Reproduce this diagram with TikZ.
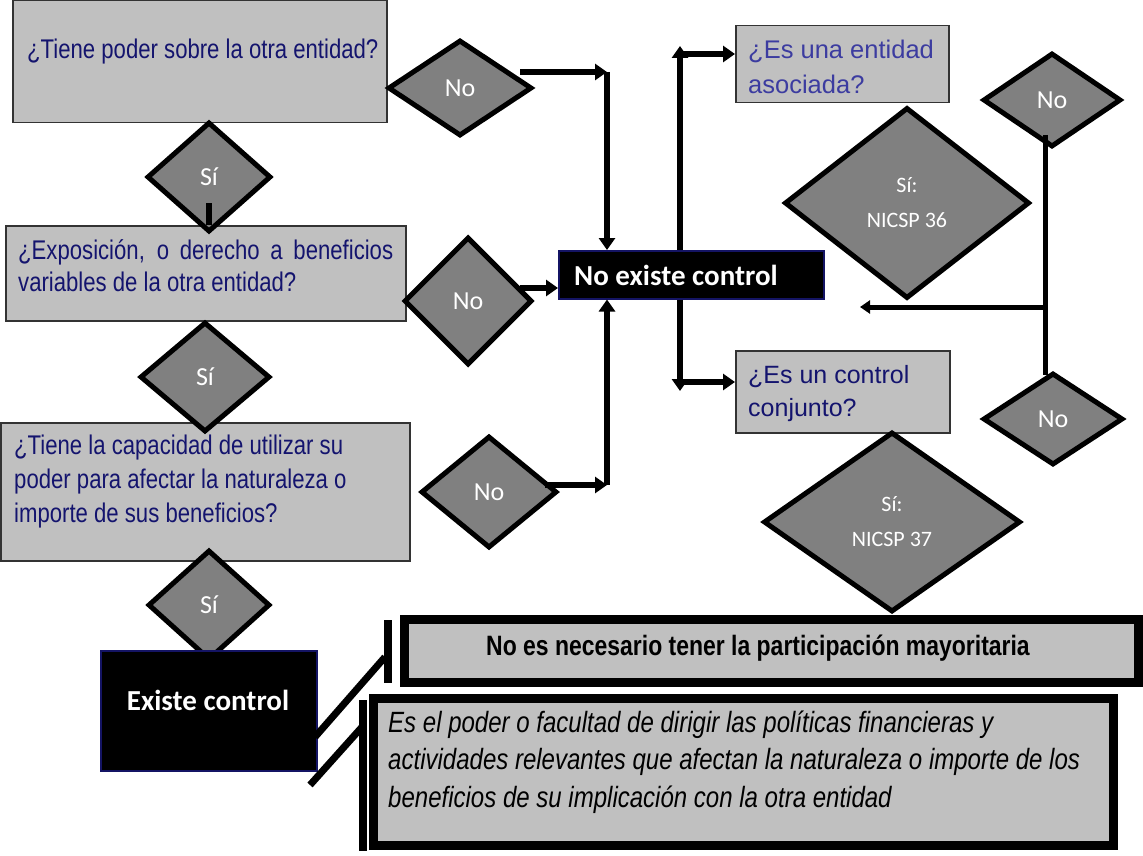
\documentclass[tikz,border=0pt]{standalone}
\usepackage{fontspec}
\setmainfont{Liberation Sans}
\newfontfamily\narrowf[FakeStretch=0.82]{Liberation Sans}
\newfontfamily\calib{Carlito}
\usetikzlibrary{shapes.geometric,arrows.meta}
\definecolor{boxgray}{RGB}{192,192,192}
\definecolor{diagray}{RGB}{128,128,128}
\definecolor{qnavy}{RGB}{20,20,110}
\definecolor{qblue}{RGB}{60,60,160}
\definecolor{bordnavy}{RGB}{20,20,100}
\tikzset{
  qbox/.style={draw=black!80, line width=1.5pt, fill=boxgray, inner sep=0pt},
  dia/.style={diamond, draw=black, line width=5pt, fill=diagray, inner sep=0pt, text=white,
    font=\calib\fontsize{26}{30}\selectfont},
  bigdia/.style={dia, align=center, font=\calib\fontsize{22}{35}\selectfont},
  blk/.style={draw=bordnavy, line width=1.5pt, fill=black, inner sep=0pt, text=white},
  qtext/.style={text=qnavy, inner sep=0pt, align=left, font=\narrowf\fontsize{27}{33}\selectfont},
  con/.style={line width=6.5pt, -{Triangle[length=12pt,width=16pt]}},
  con2/.style={line width=5pt, -{Triangle[length=10pt,width=13pt]}},
  plain/.style={line width=5pt},
  frame/.style={draw=black, line width=9pt, fill=boxgray, inner sep=0pt},
  bar/.style={line width=8pt},
  callout/.style={line width=7pt}
}
\begin{document}
\begin{tikzpicture}[x=1pt,y=-1pt]
\useasboundingbox (0,0) rectangle (1143,856);
% left column boxes
\node[qbox, minimum width=374pt, minimum height=122pt, anchor=north west] (b1) at (12,0) {};
\node[qtext, anchor=west] (t1) at (27,52) {¿Tiene poder sobre la otra entidad?};
\node[qbox, minimum width=400pt, minimum height=95pt, anchor=north west] (b2) at (5,225) {};
\node[qtext, anchor=west, font=\narrowf\fontsize{27}{32}\selectfont] (t2) at (18,266) {\makebox[375pt][s]{¿Exposición, o derecho a beneficios}\\variables de la otra entidad?};
\node[qbox, minimum width=409pt, minimum height=138pt, anchor=north west] (b3) at (0,422) {};
\node[qtext, anchor=west, font=\narrowf\fontsize{27}{34}\selectfont] (t3) at (14,482) {¿Tiene la capacidad de utilizar su\\poder para afectar la naturaleza o\\importe de sus beneficios?};
% diamonds left
\node[dia, minimum width=144pt, minimum height=96pt] (no1) at (460,88) {No};
\node[dia, minimum width=124pt, minimum height=110pt] (si1) at (209,177) {Sí};
\node[dia, minimum width=128pt, minimum height=128pt] (no2) at (468,301) {No};
\node[dia, minimum width=130pt, minimum height=110pt] (si2) at (205,377) {Sí};
\node[dia, minimum width=136pt, minimum height=112pt] (no3) at (489,492) {No};
\node[dia, minimum width=122pt, minimum height=110pt] (si3) at (209,605) {Sí};
\coordinate (st1) at (209,203);
\draw[line width=6pt] (st1) -- (st1 |- b2.north);
% black boxes
\node[blk, minimum width=265pt, minimum height=48pt, anchor=north west] (nec) at (558,250) {};
\node[text=white, inner sep=0pt, anchor=west, font=\calib\bfseries\fontsize{29}{34}\selectfont] (tnec) at (574,275) {No existe control};
\node[blk, minimum width=216pt, minimum height=120pt, anchor=north west] (ec) at (100,650) {};
\node[text=white, inner sep=0pt, font=\calib\bfseries\fontsize{29}{34}\selectfont] (tec) at (208,700) {Existe control};
% connectors to No existe control
\coordinate (c1s) at (520,72);
\coordinate (c1) at (607,72);
\draw[con] (c1s) -- (c1);
\draw[con] (c1) -- (c1 |- nec.north);
\coordinate (c2s) at (520,288);
\draw[con] (c2s) -- (c2s -| nec.west);
\coordinate (c3s) at (545,485);
\coordinate (c3) at (607,485);
\draw[con] (c3s) -- (c3);
\draw[con] (c3) -- (c3 |- nec.south);
% right column boxes
\node[qbox, minimum width=213pt, minimum height=77pt, anchor=north west] (b4) at (735,25) {};
\node[qtext, text=qblue, anchor=west, font=\fontsize{25.5}{35}\selectfont] (t4) at (748,67) {¿Es una entidad\\asociada?};
\node[qbox, minimum width=214pt, minimum height=82pt, anchor=north west] (b5) at (735,350) {};
\node[qtext, anchor=west, font=\fontsize{25}{33}\selectfont] (t5) at (748,394) {¿Es un control\\conjunto?};
\coordinate (r1) at (680,46);
\coordinate (r2) at (680,54);
\coordinate (r3) at (680,391);
\coordinate (r4) at (680,382);
\draw[con] (nec.north -| r1) -- (r1);
\draw[con] (r2) -- (r2 -| b4.west);
\draw[con] (nec.south -| r3) -- (r3);
\draw[con] (r4) -- (r4 -| b5.west);
% right diamonds
\node[bigdia, minimum width=245pt, minimum height=191pt] (s36) at (907,203) {Sí:\\NICSP 36};
\node[bigdia, minimum width=257pt, minimum height=180pt] (s37) at (892,522) {Sí:\\NICSP 37};
\node[dia, minimum width=138pt, minimum height=94pt] (no4) at (1052,100) {No};
\node[dia, minimum width=140pt, minimum height=92pt] (no5) at (1053,419) {No};
\coordinate (v1) at (1045,135);
\coordinate (v2) at (1045,375);
\coordinate (h1) at (1045,307);
\coordinate (h2) at (860,307);
\draw[plain] (v1) -- (v2);
\draw[con2] (h1) -- (h2);
% bottom notes
\node[frame, minimum width=734pt, minimum height=63pt] (n1) at (771.5,651) {};
\node[inner sep=0pt, font=\narrowf\bfseries\fontsize{28}{30}\selectfont] (tn1) at (758,648) {No es necesario tener la participación mayoritaria};
\node[frame, minimum width=740pt, minimum height=147pt] (n2) at (743.5,772) {};
\node[inner sep=0pt, anchor=west, align=left, font=\narrowf\itshape\fontsize{29.3}{37.5}\selectfont] (tn2) at (388,762) {Es el poder o facultad de dirigir las políticas financieras y\\actividades relevantes que afectan la naturaleza o importe de los\\beneficios de su implicación con la otra entidad};
\coordinate (k1a) at (388,620);
\coordinate (k1b) at (388,683);
\coordinate (k2a) at (363,700);
\coordinate (k2b) at (363,851);
\draw[bar] (k1a) -- (k1b);
\draw[bar] (k2a) -- (k2b);
\coordinate (d1a) at (315,737);
\coordinate (d1b) at (385,657);
\coordinate (d2a) at (310,785);
\coordinate (d2b) at (362,727);
\draw[callout] (d1a) -- (d1b);
\draw[callout] (d2a) -- (d2b);
\end{tikzpicture}
\end{document}
